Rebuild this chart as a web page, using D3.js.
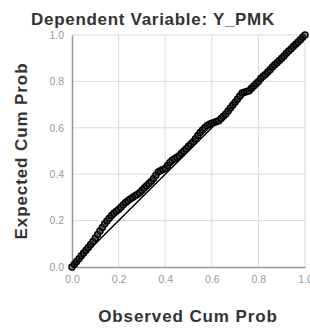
<!DOCTYPE html>
<html>
<head>
<meta charset="utf-8">
<script src="https://cdn.jsdelivr.net/npm/d3@7"></script>
<style>
  body { margin: 0; background: #fff; }
  text { font-family: "Liberation Sans", Arial, sans-serif; }
</style>
</head>
<body>
<div id="chart"></div>
<script>
// P-P plot data
const observed = [0.00,0.01,0.02,0.03,0.04,0.05,0.06,0.07,0.08,0.09,
  0.10,0.11,0.12,0.13,0.14,0.15,0.16,0.17,0.18,0.19,
  0.20,0.21,0.22,0.23,0.24,0.25,0.26,0.27,0.28,0.29,
  0.30,0.31,0.32,0.33,0.34,0.35,0.36,0.37,0.38,0.39,
  0.40,0.41,0.42,0.43,0.44,0.45,0.46,0.47,0.48,0.49,
  0.50,0.51,0.52,0.53,0.54,0.55,0.56,0.57,0.58,0.59,
  0.60,0.61,0.62,0.63,0.64,0.65,0.66,0.67,0.68,0.69,
  0.70,0.71,0.72,0.73,0.74,0.75,0.76,0.77,0.78,0.79,
  0.80,0.81,0.82,0.83,0.84,0.85,0.86,0.87,0.88,0.89,
  0.90,0.91,0.92,0.93,0.94,0.95,0.96,0.97,0.98,0.99,1.00];
const expected = [0.000,0.012,0.024,0.036,0.048,0.060,0.072,0.084,0.097,0.110,
  0.125,0.140,0.155,0.170,0.185,0.198,0.210,0.222,0.232,0.240,
  0.248,0.258,0.268,0.278,0.286,0.293,0.300,0.307,0.313,0.320,
  0.330,0.340,0.350,0.360,0.370,0.382,0.395,0.410,0.415,0.420,
  0.425,0.438,0.450,0.460,0.467,0.473,0.480,0.490,0.500,0.510,
  0.520,0.530,0.540,0.553,0.567,0.580,0.590,0.600,0.610,0.615,
  0.620,0.623,0.627,0.630,0.640,0.650,0.660,0.672,0.685,0.698,
  0.710,0.723,0.737,0.750,0.753,0.757,0.760,0.770,0.780,0.790,
  0.800,0.812,0.822,0.830,0.840,0.850,0.862,0.872,0.880,0.890,
  0.900,0.910,0.921,0.931,0.940,0.950,0.960,0.970,0.980,0.990,1.000];
const ticks = [0, 0.2, 0.4, 0.6, 0.8, 1.0];

const w = 310, h = 329;
const m = {left: 72, right: 5, top: 35, bottom: 62};

const svg = d3.select('#chart').append('svg')
  .attr('width', w).attr('height', h);

const x = d3.scaleLinear().domain([0, 1]).range([m.left, w - m.right]);
const y = d3.scaleLinear().domain([0, 1]).range([h - m.bottom, m.top]);

// grid
svg.append('g').selectAll('line').data(ticks.slice(1)).enter().append('line')
  .attr('x1', d => x(d)).attr('x2', d => x(d))
  .attr('y1', y(0)).attr('y2', y(1))
  .style('stroke', '#d9d9d9').style('stroke-width', 1);
svg.append('g').selectAll('line').data(ticks.slice(1)).enter().append('line')
  .attr('x1', x(0)).attr('x2', x(1))
  .attr('y1', d => y(d)).attr('y2', d => y(d))
  .style('stroke', '#d9d9d9').style('stroke-width', 1);

// axes
const xAxis = d3.axisBottom(x).tickValues(ticks).tickFormat(d3.format('.1f')).tickSize(0).tickPadding(9);
const yAxis = d3.axisLeft(y).tickValues(ticks).tickFormat(d3.format('.1f')).tickSize(0).tickPadding(8);

svg.append('g').attr('transform', `translate(0,${y(0)})`).call(xAxis)
  .call(g => g.select('.domain').style('stroke', '#999').style('stroke-width', 1.5))
  .selectAll('text').style('fill', '#999').style('font-size', '10.5px');
svg.append('g').attr('transform', `translate(${x(0)},0)`).call(yAxis)
  .call(g => g.select('.domain').style('stroke', '#999').style('stroke-width', 1.5))
  .selectAll('text').style('fill', '#999').style('font-size', '10.5px');

// reference line
svg.append('line')
  .attr('x1', x(0)).attr('y1', y(0)).attr('x2', x(1)).attr('y2', y(1))
  .style('stroke', '#000').style('stroke-width', 1.5);

// points
svg.append('g').selectAll('circle').data(observed).enter().append('circle')
  .attr('cx', d => x(d))
  .attr('cy', (d, i) => y(expected[i]))
  .attr('r', 3)
  .style('fill', '#333')
  .style('fill-opacity', 0.55)
  .style('stroke', '#000')
  .style('stroke-width', 1.5);

// title
svg.append('text')
  .attr('x', 153).attr('y', 25)
  .attr('text-anchor', 'middle')
  .style('font-size', '17px').style('font-weight', 'bold').style('fill', '#333')
  .style('letter-spacing', '0.7px')
  .text('Dependent Variable: Y_PMK');

// axis labels
svg.append('text')
  .attr('x', 188).attr('y', 322)
  .attr('text-anchor', 'middle')
  .style('font-size', '17px').style('font-weight', 'bold').style('fill', '#333')
  .style('letter-spacing', '0.9px')
  .text('Observed Cum Prob');

svg.append('text')
  .attr('transform', 'rotate(-90)')
  .attr('x', -151).attr('y', 27)
  .attr('text-anchor', 'middle')
  .style('font-size', '17px').style('font-weight', 'bold').style('fill', '#333')
  .style('letter-spacing', '0.9px')
  .text('Expected Cum Prob');
</script>
</body>
</html>
